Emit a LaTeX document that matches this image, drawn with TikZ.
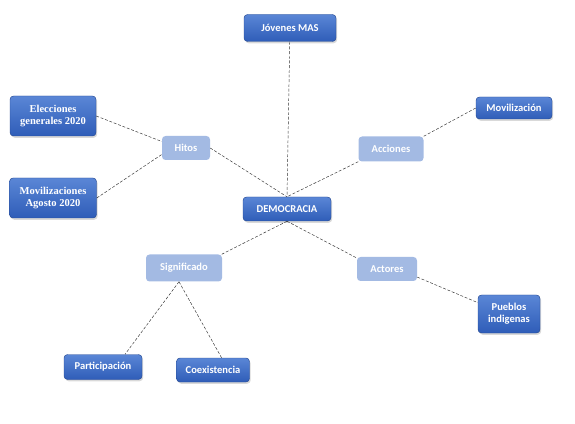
\documentclass[tikz,border=0pt]{standalone}
\usepackage{fontspec}
\setmainfont{Carlito}
\newfontfamily\serifbold{Liberation Serif}
\usepackage{tikz}
\usetikzlibrary{shadows}

\definecolor{boxtop}{HTML}{5A86D6}
\definecolor{boxbottom}{HTML}{2F5DB8}
\definecolor{subfill}{HTML}{A3BAE3}
\definecolor{linegray}{HTML}{333333}

\begin{document}
\begin{tikzpicture}[
  x=0.03cm, y=-0.03cm,
  font=\fontsize{9}{10.5}\selectfont\bfseries,
  mainbox/.style={
    rounded corners=3pt,
    draw=boxbottom!80!black,
    top color=boxtop,
    bottom color=boxbottom,
    text=white,
    align=center,
    inner sep=2pt,
    drop shadow={shadow xshift=1pt, shadow yshift=-1.5pt, opacity=0.3}
  },
  subbox/.style={
    rounded corners=3pt,
    fill=subfill,
    text=white,
    align=center,
    inner sep=2pt
  },
  link/.style={dashed, dash pattern=on 2.5pt off 1.5pt, thin, linegray}
]
\useasboundingbox (0,0) rectangle (575,424);

% centro
\node[mainbox, minimum width=88*0.03cm, minimum height=24*0.03cm] (dem) at (287,209) {DEMOCRACIA};
\node[mainbox, minimum width=92*0.03cm, minimum height=27*0.03cm] (jov) at (290,28) {Jóvenes MAS};

% categorias
\node[subbox, minimum width=48*0.03cm, minimum height=24*0.03cm] (hitos) at (186,148) {Hitos};
\node[subbox, minimum width=65*0.03cm, minimum height=25*0.03cm] (acc) at (391,149) {Acciones};
\node[subbox, minimum width=76*0.03cm, minimum height=27*0.03cm] (sig) at (184,268) {Significado};
\node[subbox, minimum width=60*0.03cm, minimum height=24*0.03cm] (act) at (387,269) {Actores};

% hojas
\node[mainbox, minimum width=86*0.03cm, minimum height=40*0.03cm, font=\fontsize{9}{10.5}\selectfont\serifbold\bfseries] (elec) at (53,116) {Elecciones\\generales 2020};
\node[mainbox, minimum width=87*0.03cm, minimum height=40*0.03cm, font=\fontsize{9}{10.5}\selectfont\serifbold\bfseries] (movag) at (53,198) {Movilizaciones\\Agosto 2020};
\node[mainbox, minimum width=76*0.03cm, minimum height=22*0.03cm] (mov) at (514,108) {Movilización};
\node[mainbox, minimum width=62*0.03cm, minimum height=38*0.03cm] (pue) at (509,314) {Pueblos\\indigenas};
\node[mainbox, minimum width=78*0.03cm, minimum height=25*0.03cm] (part) at (103,367) {Participación};
\node[mainbox, minimum width=73*0.03cm, minimum height=24*0.03cm] (coex) at (213,370) {Coexistencia};

\draw[link] (jov) -- (dem.north);
\draw[link] (hitos.east) -- (dem.north);
\draw[link] (acc.south west) -- (dem.north);
\draw[link] (elec.east) -- (hitos.165);
\draw[link] (movag.east) -- (hitos.195);
\draw[link] (acc.north east) -- (mov.west);
\draw[link] (dem.south) -- (sig.20);
\draw[link] (dem.south) -- (act.160);
\draw[link] (act.-15) -- (pue.160);
\draw[link] (sig.250) -- (part.30);
\draw[link] (sig.250) -- (coex.55);
\end{tikzpicture}
\end{document}
